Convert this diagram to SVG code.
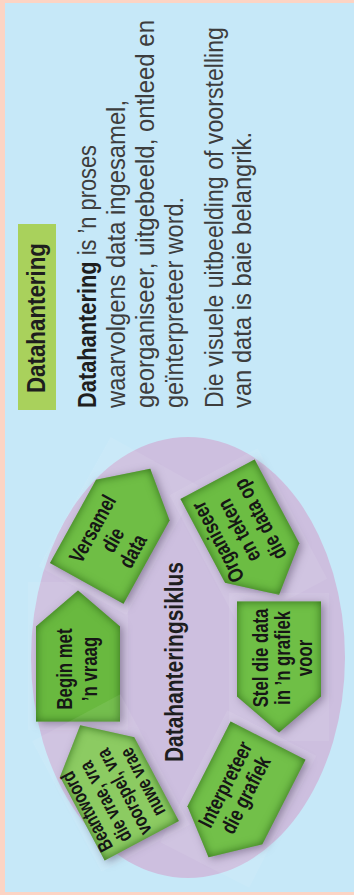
<svg xmlns="http://www.w3.org/2000/svg" width="354" height="895" viewBox="0 0 354 895">
<defs>
<style>
.body{font-family:"Liberation Sans",Arial,sans-serif;font-size:25px;fill:#3d3d3d}
.b{font-weight:bold;fill:#1e1e1e}
.st{font-family:"Liberation Sans",Arial,sans-serif;font-size:21.5px;font-weight:bold;fill:#161616;text-anchor:middle}
.box{fill:#ffffff;opacity:0.08}
</style>
<polygon id="arrow" points="0,-65.5 42,-29.5 42,65.5 -42,65.5 -42,-29.5"/>
<filter id="gs" x="-30%" y="-30%" width="160%" height="160%" color-interpolation-filters="sRGB">
<feGaussianBlur in="SourceAlpha" stdDeviation="4" result="b1"/>
<feOffset in="b1" dx="3" dy="2" result="o1"/>
<feFlood flood-color="#4b3d5c" flood-opacity="0.5"/>
<feComposite in2="o1" operator="in" result="ds"/>
<feGaussianBlur in="SourceAlpha" stdDeviation="5" result="b2"/>
<feComposite in="SourceAlpha" in2="b2" operator="out" result="edge"/>
<feFlood flood-color="#2f6a18" flood-opacity="0.95"/>
<feComposite in2="edge" operator="in" result="is"/>
<feMerge><feMergeNode in="ds"/><feMergeNode in="SourceGraphic"/><feMergeNode in="is"/></feMerge>
</filter>
</defs>
<rect x="0" y="0" width="354" height="895" fill="#fcd4c4"/>
<rect x="5" y="3" width="349" height="889" fill="#c6e8f8"/>

<g id="heading">
<rect x="18" y="224" width="38" height="186" fill="#a9d15c"/>
<text class="body b" style="font-size:25px" transform="translate(45,393) rotate(-90)" textLength="150" lengthAdjust="spacingAndGlyphs">Datahantering</text>
</g>

<g id="definition">
<text class="body" transform="translate(96,408) rotate(-90)" textLength="263" lengthAdjust="spacingAndGlyphs"><tspan class="b">Datahantering</tspan> is ’n proses</text>
<text class="body" transform="translate(125,408) rotate(-90)" textLength="308" lengthAdjust="spacingAndGlyphs">waarvolgens data ingesamel,</text>
<text class="body" transform="translate(154,408) rotate(-90)" textLength="388" lengthAdjust="spacingAndGlyphs">georganiseer, uitgebeeld, ontleed en</text>
<text class="body" transform="translate(183,408) rotate(-90)" textLength="211" lengthAdjust="spacingAndGlyphs">geïnterpreteer word.</text>
<text class="body" transform="translate(223,408) rotate(-90)" textLength="381" lengthAdjust="spacingAndGlyphs">Die visuele uitbeelding of voorstelling</text>
<text class="body" transform="translate(251,408) rotate(-90)" textLength="276" lengthAdjust="spacingAndGlyphs">van data is baie belangrik.</text>
</g>

<g id="cycle">
<ellipse cx="188" cy="657.5" rx="157" ry="220.5" fill="#cdbfdf"/>
<text class="body b" style="font-size:26px;text-anchor:middle" transform="translate(183,662) rotate(-90)" textLength="200" lengthAdjust="spacingAndGlyphs">Datahanteringsiklus</text>
</g>

<g id="connectors"></g>

<g id="n-begin">
<rect class="box" x="-50" y="-74" width="100" height="148" transform="translate(78,656)"/>
<g filter="url(#gs)"><use href="#arrow" fill="#69b93f" transform="translate(78,656)"/></g>
<g transform="translate(78,656) rotate(-90) translate(-13,0) scale(0.78,1)">
<text class="st" x="0" y="-6">Begin met</text>
<text class="st" x="0" y="19">’n vraag</text>
</g>
</g>

<g id="n-versamel">
<rect class="box" x="-50" y="-74" width="100" height="148" transform="translate(118.5,526) rotate(29)"/>
<g filter="url(#gs)"><use href="#arrow" fill="#6fbe45" transform="translate(118.5,526) rotate(29)"/></g>
<g transform="translate(118.5,526) rotate(-61) translate(-15,0) scale(0.78,1)">
<text class="st" x="0" y="-14">Versamel</text>
<text class="st" x="0" y="9">die</text>
<text class="st" x="0" y="32">data</text>
</g>
</g>

<g id="n-organiseer">
<rect class="box" x="-50" y="-74" width="100" height="148" transform="translate(248.3,537) rotate(152)"/>
<g filter="url(#gs)"><use href="#arrow" fill="#6cbd43" transform="translate(248.3,537) rotate(152)"/></g>
<g transform="translate(248.3,537) rotate(-118) translate(10,0) scale(0.78,1)">
<text class="st" x="0" y="-22">Organiseer</text>
<text class="st" x="0" y="2">en teken</text>
<text class="st" x="0" y="26">die data op</text>
</g>
</g>

<g id="n-stel">
<rect class="box" x="-50" y="-74" width="100" height="148" transform="translate(279,667) rotate(180)"/>
<g filter="url(#gs)"><use href="#arrow" fill="#6fbf46" transform="translate(279,667) rotate(180)"/></g>
<g transform="translate(279,667) rotate(-90) translate(9,0) scale(0.78,1)">
<text class="st" x="0" y="-11">Stel die data</text>
<text class="st" x="0" y="11">in ’n grafiek</text>
<text class="st" x="0" y="33">voor</text>
</g>
</g>

<g id="n-interpreteer">
<rect class="box" x="-50" y="-74" width="100" height="148" transform="translate(238.3,799) rotate(-153)"/>
<g filter="url(#gs)"><use href="#arrow" fill="#72c049" transform="translate(238.3,799) rotate(-153)"/></g>
<g transform="translate(238.3,799) rotate(-63) translate(7,0) scale(0.78,1)">
<text class="st" x="0" y="-11">Interpreteer</text>
<text class="st" x="0" y="12">die grafiek</text>
</g>
</g>

<g id="n-beantwoord">
<rect class="box" x="-50" y="-74" width="100" height="148" transform="translate(111,783) rotate(-28)"/>
<g filter="url(#gs)"><use href="#arrow" fill="#8ccb62" transform="translate(111,783) rotate(-28)"/></g>
<g transform="translate(111,783) rotate(-118) translate(-14,0) scale(0.76,1)">
<text class="st" style="font-size:20px" x="0" y="-28">Beantwoord</text>
<text class="st" style="font-size:20px" x="0" y="-7">die vrae, vra</text>
<text class="st" style="font-size:20px" x="0" y="14">voorspel, vra</text>
<text class="st" style="font-size:20px" x="0" y="35">nuwe vrae</text>
</g>
</g>
</svg>
